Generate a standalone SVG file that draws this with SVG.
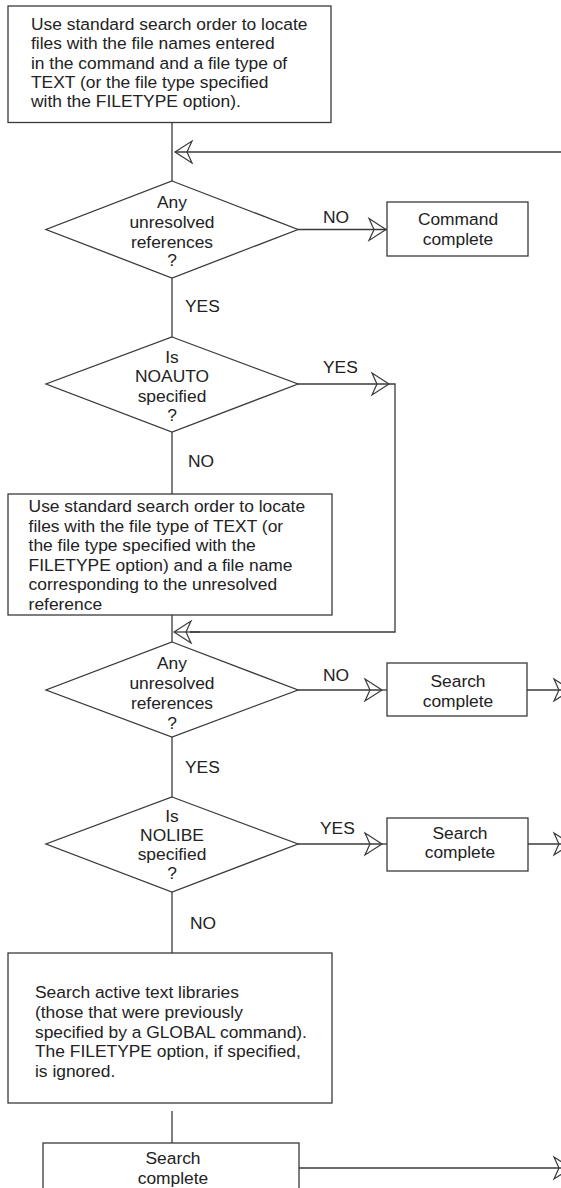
<svg xmlns="http://www.w3.org/2000/svg" width="561" height="1188" viewBox="0 0 561 1188">
<style>
  text { font-family: "Liberation Sans", Arial, sans-serif; font-size: 17.4px; fill: #222; }
  .c { text-anchor: middle; }
  .shape { fill: #fff; stroke: #3a3a3a; stroke-width: 1.3; }
  .ln { fill: none; stroke: #3a3a3a; stroke-width: 1.3; }
  .ar { marker-end: url(#open); }
</style>
<defs>
  <marker id="open" markerUnits="userSpaceOnUse" viewBox="-20 -13 24 26" markerWidth="24" markerHeight="26" refX="0" refY="0" orient="auto">
    <path d="M-17,-11 L0,0 L-17,11 L-12,0 Z" fill="none" stroke="#3a3a3a" stroke-width="1.2" stroke-linejoin="miter"/>
  </marker>
</defs>
<rect width="561" height="1188" fill="#fff"/>

<g id="connectors">
  <line class="ln" x1="172" y1="122" x2="172" y2="181"/>
  <path class="ln ar" d="M561,152 L175,152"/>
  <path class="ln ar" d="M298,229.5 L386,229.5"/>
  <line class="ln" x1="386" y1="229.5" x2="387" y2="229.5"/>
  <line class="ln" x1="172" y1="278" x2="172" y2="337"/>
  <path class="ln ar" d="M298,384 L389,384"/>
  <path class="ln" d="M389,384 L395,384 L395,632 L190,632"/>
  <path class="ln ar" d="M200,632 L174,632"/>
  <line class="ln" x1="172" y1="432" x2="172" y2="494"/>
  <line class="ln" x1="172" y1="615" x2="172" y2="642"/>
  <path class="ln ar" d="M298,690 L382,690"/>
  <line class="ln" x1="382" y1="690" x2="387" y2="690"/>
  <path class="ln ar" d="M527,690 L571,690"/>
  <line class="ln" x1="172" y1="737" x2="172" y2="797"/>
  <path class="ln ar" d="M298,844 L382,844"/>
  <line class="ln" x1="382" y1="844" x2="387" y2="844"/>
  <path class="ln ar" d="M528,844 L571,844"/>
  <line class="ln" x1="172" y1="892" x2="172" y2="953"/>
  <line class="ln" x1="172" y1="1111" x2="172" y2="1143"/>
  <path class="ln ar" d="M299,1168 L571,1168"/>
  <text x="323" y="223">NO</text>
  <text x="185" y="312">YES</text>
  <text x="323" y="373">YES</text>
  <text x="188" y="467">NO</text>
  <text x="323" y="681">NO</text>
  <text x="185" y="773">YES</text>
  <text x="320" y="834">YES</text>
  <text x="190" y="929">NO</text>
</g>

<g id="box1">
  <rect class="shape" x="8" y="6" width="323" height="116.5"/>
  <text x="31" y="30">Use standard search order to locate</text>
  <text x="31" y="49.3">files with the file names entered</text>
  <text x="31" y="68.7">in the command and a file type of</text>
  <text x="31" y="88">TEXT (or the file type specified</text>
  <text x="31" y="107.3">with the FILETYPE option).</text>
</g>

<g id="decision1">
  <polygon class="shape" points="172,181 298,229.5 172,278 46,229.5"/>
  <text class="c" x="172" y="208">Any</text>
  <text class="c" x="172" y="228">unresolved</text>
  <text class="c" x="172" y="247.5">references</text>
  <text class="c" x="172" y="266">?</text>
</g>

<g id="command-complete">
  <rect class="shape" x="387" y="202" width="141" height="54"/>
  <text class="c" x="458" y="225">Command</text>
  <text class="c" x="458" y="245">complete</text>
</g>

<g id="decision2">
  <polygon class="shape" points="172,337 298,384 172,432 46,384"/>
  <text class="c" x="172" y="363">Is</text>
  <text class="c" x="172" y="382">NOAUTO</text>
  <text class="c" x="172" y="402">specified</text>
  <text class="c" x="172" y="421">?</text>
</g>

<g id="box2">
  <rect class="shape" x="8" y="494" width="324" height="121"/>
  <text x="28.6" y="512">Use standard search order to locate</text>
  <text x="28.6" y="531.5">files with the file type of TEXT (or</text>
  <text x="28.6" y="551">the file type specified with the</text>
  <text x="28.6" y="570.5">FILETYPE option) and a file name</text>
  <text x="28.6" y="590">corresponding to the unresolved</text>
  <text x="28.6" y="609.5">reference</text>
</g>

<g id="decision3">
  <polygon class="shape" points="172,642 298,690 172,737 46,690"/>
  <text class="c" x="172" y="669">Any</text>
  <text class="c" x="172" y="689">unresolved</text>
  <text class="c" x="172" y="709">references</text>
  <text class="c" x="172" y="729">?</text>
</g>

<g id="search-complete1">
  <rect class="shape" x="387" y="663" width="140" height="53"/>
  <text class="c" x="458" y="687">Search</text>
  <text class="c" x="458" y="707">complete</text>
</g>

<g id="decision4">
  <polygon class="shape" points="172,797 298,844 172,892 46,844"/>
  <text class="c" x="172" y="822">Is</text>
  <text class="c" x="172" y="841">NOLIBE</text>
  <text class="c" x="172" y="860">specified</text>
  <text class="c" x="172" y="879">?</text>
</g>

<g id="search-complete2">
  <rect class="shape" x="387" y="818" width="141" height="53"/>
  <text class="c" x="460" y="839">Search</text>
  <text class="c" x="460" y="858">complete</text>
</g>

<g id="box3">
  <rect class="shape" x="8" y="953" width="324" height="150"/>
  <text x="35" y="998">Search active text libraries</text>
  <text x="35" y="1018">(those that were previously</text>
  <text x="35" y="1037.5">specified by a GLOBAL command).</text>
  <text x="35" y="1057">The FILETYPE option, if specified,</text>
  <text x="35" y="1076.5">is ignored.</text>
</g>

<g id="search-complete3">
  <rect class="shape" x="43" y="1143" width="256" height="60"/>
  <text class="c" x="173" y="1164">Search</text>
  <text class="c" x="173" y="1184">complete</text>
</g>
</svg>
